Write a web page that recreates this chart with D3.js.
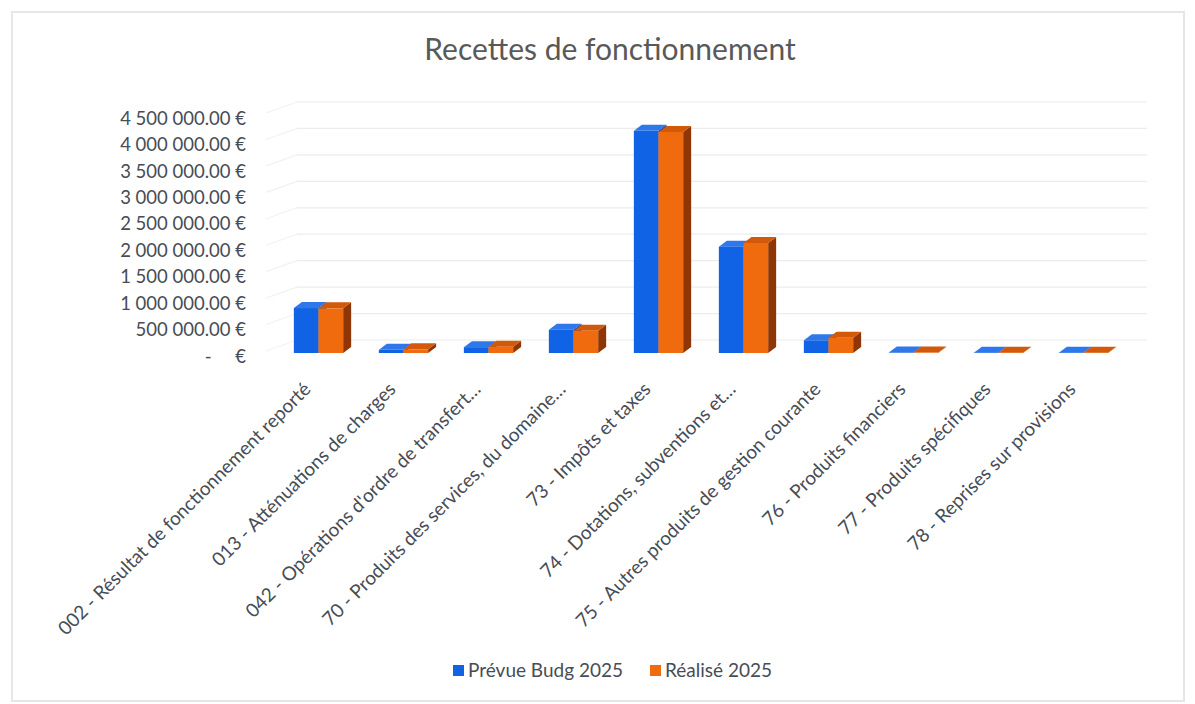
<!DOCTYPE html>
<html>
<head>
<meta charset="utf-8">
<script src="https://cdn.jsdelivr.net/npm/d3@7"></script>
<style>
  body { margin: 0; background: #fff; }
  svg { display: block; font-family: Lato, "Open Sans", sans-serif; }
</style>
</head>
<body>
<svg id="chart" width="1195" height="704"></svg>
<script>
// data
const categories = [
  "002 - Résultat de fonctionnement reporté",
  "013 - Atténuations de charges",
  "042 - Opérations d'ordre de transfert…",
  "70 - Produits des services, du domaine…",
  "73 - Impôts et taxes",
  "74 - Dotations, subventions et…",
  "75 - Autres produits de gestion courante",
  "76 - Produits financiers",
  "77 - Produits spécifiques",
  "78 - Reprises sur provisions"
];
const prevue  = [850000, 60000, 110000, 440000, 4200000, 2010000, 240000, 8000, 6000, 6000];
const realise = [845000, 70000, 120000, 420000, 4180000, 2080000, 290000, 8000, 6000, 6000];
const seriesNames = ["Prévue Budg 2025", "Réalisé 2025"];
const yTicks = [0, 500000, 1000000, 1500000, 2000000, 2500000, 3000000, 3500000, 4000000, 4500000];

const txtclr = "#474c55";
const colors = [
  { front: "#0f63e4", top: "#2f78ec", side: "#0a3f99" },
  { front: "#f06a0e", top: "#d2590a", side: "#8e3606" }
];
const depth = { dx: 8, dy: -6 };
const wall = { dx: 21, dy: -13 };

const svg = d3.select("#chart");

// scanned frame
svg.append("rect")
  .attr("x", 12).attr("y", 12).attr("width", 1172).attr("height", 689)
  .attr("fill", "#fff").attr("stroke", "#e6e6ea").attr("stroke-width", 2);

const x = d3.scaleBand().domain(categories).range([276, 1126]).paddingInner(0.42).paddingOuter(0.21);
const xs = d3.scaleBand().domain([0, 1]).range([0, x.bandwidth()]);
const y = d3.scaleLinear().domain([0, 4500000]).range([353, 115]);

// back wall gridlines + side wall
const grid = svg.append("g");
yTicks.forEach(t => {
  grid.append("line")
    .attr("x1", 276 + wall.dx).attr("x2", 1126 + wall.dx)
    .attr("y1", y(t) + wall.dy).attr("y2", y(t) + wall.dy)
    .attr("stroke", "#ececec").attr("stroke-width", 1.2);
  grid.append("line")
    .attr("x1", 266).attr("x2", 276 + wall.dx)
    .attr("y1", y(t) - 2).attr("y2", y(t) + wall.dy)
    .attr("stroke", "#f2f2f2").attr("stroke-width", 1.2);
});

// y axis labels
const loc = d3.formatLocale({ decimal: ".", thousands: " ", grouping: [3], currency: ["", " €"] });
const fmt = loc.format(",.2f");
svg.append("g").selectAll("text").data(yTicks).join("text")
  .attr("x", 246).attr("y", d => y(d) + 5)
  .attr("text-anchor", "end").attr("dominant-baseline", "middle")
  .attr("fill", txtclr).attr("font-size", 18.5)
  .style("white-space", "pre")
  .text(d => d === 0 ? "-     €" : fmt(d) + " €");

// 3D bars
function bar3d(g, x0, w, v, c) {
  const top = y(v), base = y(0);
  const { dx, dy } = depth;
  g.append("path")
    .attr("d", `M${x0 + w},${top}L${x0 + w + dx},${top + dy}L${x0 + w + dx},${base + dy}L${x0 + w},${base}Z`)
    .attr("fill", c.side);
  g.append("path")
    .attr("d", `M${x0},${top}L${x0 + dx},${top + dy}L${x0 + w + dx},${top + dy}L${x0 + w},${top}Z`)
    .attr("fill", c.top);
  g.append("rect")
    .attr("x", x0).attr("y", top).attr("width", w).attr("height", base - top)
    .attr("fill", c.front);
}

const bars = svg.append("g");
categories.forEach((cat, i) => {
  [prevue[i], realise[i]].forEach((v, s) => {
    bar3d(bars, x(cat) + xs(s), xs.bandwidth(), v, colors[s]);
  });
});

// x labels
svg.append("g").selectAll("text").data(categories).join("text")
  .attr("transform", d => `translate(${x(d) + x.bandwidth() / 2 - 10},${387}) rotate(-45)`)
  .attr("text-anchor", "end").attr("dominant-baseline", "middle")
  .attr("fill", txtclr).attr("font-size", 19)
  .text(d => d);

// title
svg.append("text")
  .attr("x", 610).attr("y", 52)
  .attr("text-anchor", "middle").attr("dominant-baseline", "middle")
  .attr("fill", "#595959").attr("font-size", 30)
  .text("Recettes de fonctionnement");

// legend
const legX = [453, 650];
const leg = svg.append("g");
seriesNames.forEach((n, s) => {
  leg.append("rect")
    .attr("x", legX[s]).attr("y", 665).attr("width", 11).attr("height", 11)
    .attr("fill", colors[s].front);
  leg.append("text")
    .attr("x", legX[s] + 15).attr("y", 672)
    .attr("dominant-baseline", "middle")
    .attr("fill", txtclr).attr("font-size", 19)
    .text(n);
});
</script>
</body>
</html>
